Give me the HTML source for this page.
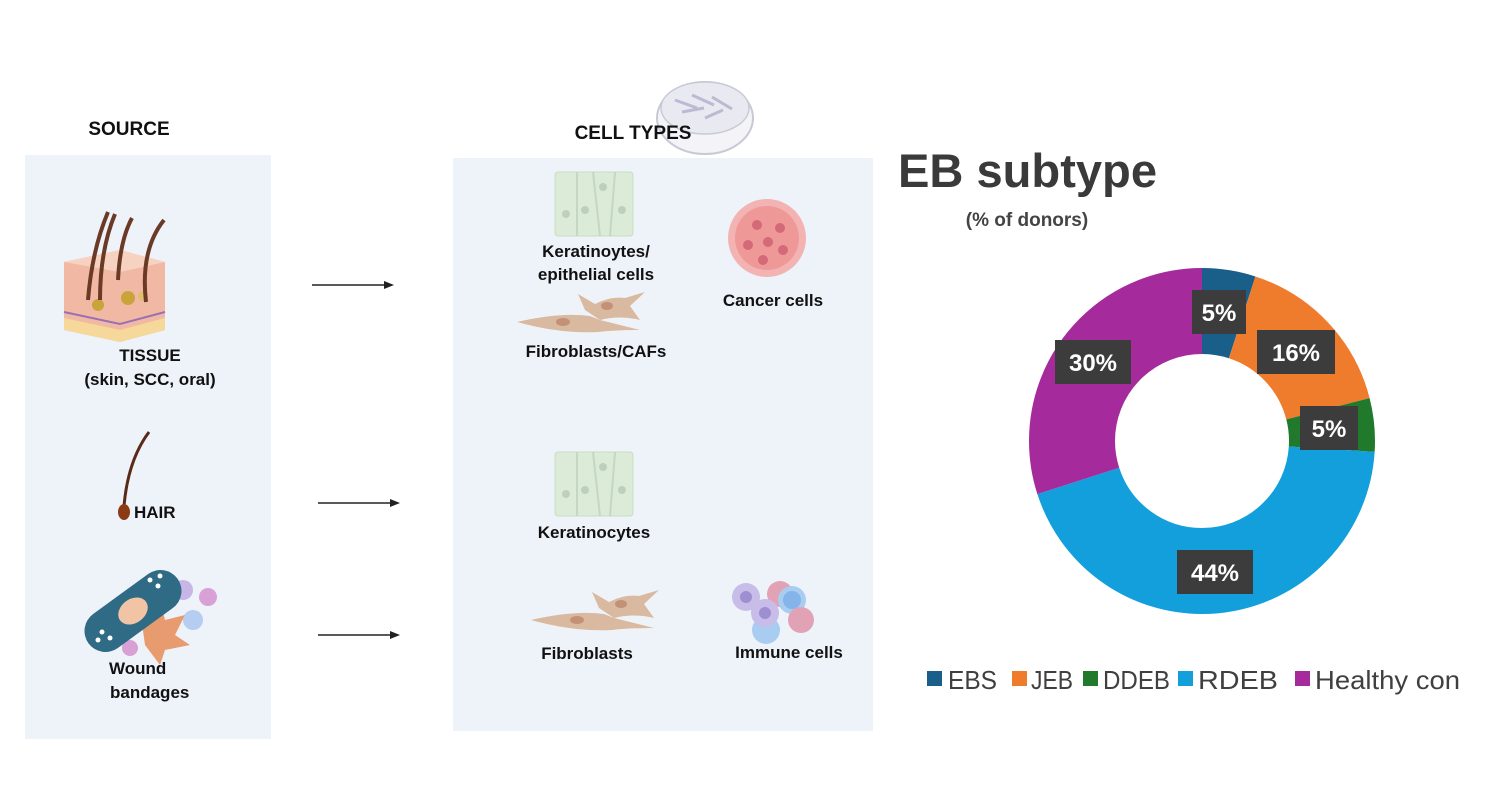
<!DOCTYPE html>
<html><head><meta charset="utf-8">
<style>
html,body{margin:0;padding:0;background:#fff;}
svg{display:block;}
text{font-family:"Liberation Sans",sans-serif;}
</style></head>
<body>
<svg width="1499" height="800" viewBox="0 0 1499 800" xmlns="http://www.w3.org/2000/svg">
<defs>
<marker id="ah" markerWidth="10" markerHeight="10" refX="8" refY="5" orient="auto" markerUnits="userSpaceOnUse">
<path d="M0,1 L10,5 L0,9 Z" fill="#222"/></marker>
</defs>
<rect width="1499" height="800" fill="#fff"/>
<rect x="25" y="155" width="246" height="584" fill="#eef3fa"/>
<rect x="453" y="158" width="420" height="573" fill="#eef3fa"/>

<text x="129" y="135" font-size="19" font-weight="bold" text-anchor="middle" fill="#111">SOURCE</text>
<ellipse cx="705" cy="118" rx="48" ry="36" fill="#f4f4f8" stroke="#c9c9d6" stroke-width="2"/>
<ellipse cx="705" cy="108" rx="44" ry="26" fill="#e9e9f2" stroke="#c9c9d6" stroke-width="1.5"/>
<path d="M675,100 l22,8 M692,95 l22,10 M712,97 l20,12 M682,112 l22,-4 M705,118 l18,-8" stroke="#b9bbd2" stroke-width="3"/>
<text x="633" y="139" font-size="19" font-weight="bold" text-anchor="middle" fill="#111">CELL TYPES</text>

<g>
<path d="M64,262 L120,250 L165,262 L165,330 L120,342 L64,330 Z" fill="#f1b9a4"/>
<path d="M64,262 L120,250 L165,262 L120,272 Z" fill="#f7d2c1"/>
<path d="M64,318 L120,330 L165,318 L165,330 L120,342 L64,330 Z" fill="#f5d89a"/>
<path d="M64,312 L120,324 L165,312" stroke="#9a6fb3" stroke-width="2" fill="none"/>
<circle cx="98" cy="305" r="6" fill="#c9a43a"/><circle cx="128" cy="298" r="7" fill="#c9a43a"/><circle cx="143" cy="296" r="5" fill="#e0c070"/>
<path d="M88,300 Q92,250 108,212 M100,300 Q100,250 115,214 M118,280 Q120,240 132,218 M146,302 Q140,250 164,220" stroke="#6b3a26" stroke-width="4" fill="none"/>
</g>
<text x="150" y="361" font-size="17" font-weight="bold" text-anchor="middle" fill="#111">TISSUE</text>
<text x="150" y="385" font-size="17" font-weight="bold" text-anchor="middle" fill="#111">(skin, SCC, oral)</text>

<path d="M149,432 Q128,460 124,506" stroke="#5a2a18" stroke-width="3" fill="none"/>
<ellipse cx="124" cy="512" rx="6" ry="8" fill="#8a3a15"/>
<text x="134" y="518" font-size="17" font-weight="bold" fill="#111">HAIR</text>

<g>
<circle cx="183" cy="590" r="10" fill="#c8b7e6"/><circle cx="208" cy="597" r="9" fill="#d9a0d5"/>
<circle cx="193" cy="620" r="10" fill="#b5cdf0"/><circle cx="130" cy="648" r="8" fill="#d9a0d5"/>
<path d="M140,610 l20,-10 l5,20 l20,-5 l-10,20 l15,10 l-25,5 l-5,15 l-15,-20 Z" fill="#e89b6f"/>
<path d="M125,605 l15,-5 l10,15 l-12,10 Z" fill="#e89b6f"/>
<rect x="78" y="590" width="110" height="42" rx="21" fill="#2f6b84" transform="rotate(-36 133 611)"/>
<ellipse cx="133" cy="611" rx="16" ry="12" fill="#f1c4a6" transform="rotate(-36 133 611)"/>
<circle cx="150" cy="580" r="2.5" fill="#fff"/><circle cx="158" cy="586" r="2.5" fill="#fff"/><circle cx="160" cy="576" r="2.5" fill="#fff"/>
<circle cx="102" cy="632" r="2.5" fill="#fff"/><circle cx="110" cy="638" r="2.5" fill="#fff"/><circle cx="98" cy="640" r="2.5" fill="#fff"/>
</g>
<text x="109" y="674" font-size="17" font-weight="bold" fill="#111">Wound</text>
<text x="110" y="698" font-size="17" font-weight="bold" fill="#111">bandages</text>

<line x1="312" y1="285" x2="392" y2="285" stroke="#222" stroke-width="1.6" marker-end="url(#ah)"/>
<line x1="318" y1="503" x2="398" y2="503" stroke="#222" stroke-width="1.6" marker-end="url(#ah)"/>
<line x1="318" y1="635" x2="398" y2="635" stroke="#222" stroke-width="1.6" marker-end="url(#ah)"/>

<g id="kb">
<rect x="555" y="172" width="78" height="64" rx="3" fill="#dcebd8" stroke="#c8dcc3"/>
<line x1="577" y1="172" x2="577" y2="236" stroke="#c3d8be" stroke-width="2"/>
<line x1="593" y1="172" x2="600" y2="236" stroke="#c3d8be" stroke-width="2"/>
<line x1="615" y1="172" x2="610" y2="236" stroke="#c3d8be" stroke-width="2"/>
<circle cx="566" cy="214" r="4" fill="#bfd0ba"/><circle cx="585" cy="210" r="4" fill="#bfd0ba"/><circle cx="603" cy="187" r="4" fill="#bfd0ba"/><circle cx="622" cy="210" r="4" fill="#bfd0ba"/>
</g>
<use href="#kb" transform="translate(0,280)"/>
<text x="596" y="257" font-size="17" font-weight="bold" text-anchor="middle" fill="#111">Keratinoytes/</text>
<text x="596" y="280" font-size="17" font-weight="bold" text-anchor="middle" fill="#111">epithelial cells</text>
<text x="594" y="538" font-size="17" font-weight="bold" text-anchor="middle" fill="#111">Keratinocytes</text>

<g id="fb">
<path d="M517,322 Q560,312 590,316 L600,320 Q620,325 640,330 Q615,330 598,332 Q560,334 517,322 Z" fill="#d9b9a0"/>
<path d="M585,310 L578,294 L595,304 Q610,296 625,298 L645,292 L630,306 L640,320 Q620,315 600,320 Z" fill="#d9b9a0"/>
<ellipse cx="607" cy="306" rx="6" ry="4" fill="#c39276"/><ellipse cx="563" cy="322" rx="7" ry="4" fill="#c39276"/>
</g>
<use href="#fb" transform="translate(14,298)"/>
<text x="596" y="357" font-size="17" font-weight="bold" text-anchor="middle" fill="#111">Fibroblasts/CAFs</text>
<text x="587" y="659" font-size="17" font-weight="bold" text-anchor="middle" fill="#111">Fibroblasts</text>

<circle cx="767" cy="238" r="39" fill="#f3b3b3"/>
<circle cx="767" cy="238" r="32" fill="#ef9898"/>
<circle cx="757" cy="225" r="5" fill="#d46a77"/><circle cx="780" cy="228" r="5" fill="#d46a77"/><circle cx="768" cy="242" r="5" fill="#d46a77"/><circle cx="748" cy="245" r="5" fill="#d46a77"/><circle cx="783" cy="250" r="5" fill="#d46a77"/><circle cx="763" cy="260" r="5" fill="#d46a77"/>
<text x="773" y="306" font-size="17" font-weight="bold" text-anchor="middle" fill="#111">Cancer cells</text>

<circle cx="746" cy="597" r="14" fill="#c7bde8"/><circle cx="746" cy="597" r="6" fill="#9d8fd0"/>
<circle cx="780" cy="594" r="13" fill="#e2a2b6"/>
<circle cx="792" cy="600" r="14" fill="#a8cdf1"/><circle cx="792" cy="600" r="9" fill="#84b4ea"/>
<circle cx="801" cy="620" r="13" fill="#e2a2b6"/>
<circle cx="766" cy="630" r="14" fill="#a8cdf1"/>
<circle cx="765" cy="613" r="14" fill="#c7bde8"/><circle cx="765" cy="613" r="6" fill="#9d8fd0"/>
<text x="789" y="658" font-size="17" font-weight="bold" text-anchor="middle" fill="#111">Immune cells</text>

<text x="898" y="187" font-size="47" font-weight="bold" fill="#3a3a3a" textLength="259" lengthAdjust="spacingAndGlyphs">EB subtype</text>
<text x="1027" y="226" font-size="19" font-weight="bold" text-anchor="middle" fill="#444">(% of donors)</text>

<g transform="rotate(-90 1202 441)">
<circle cx="1202" cy="441" r="130" fill="none" stroke="#1a5f8a" stroke-width="86" stroke-dasharray="40.84 816.81" stroke-dashoffset="0"/>
<circle cx="1202" cy="441" r="130" fill="none" stroke="#ef7b2d" stroke-width="86" stroke-dasharray="130.69 816.81" stroke-dashoffset="-40.84"/>
<circle cx="1202" cy="441" r="130" fill="none" stroke="#217a2c" stroke-width="86" stroke-dasharray="40.84 816.81" stroke-dashoffset="-171.53"/>
<circle cx="1202" cy="441" r="130" fill="none" stroke="#129fdc" stroke-width="86" stroke-dasharray="359.4 816.81" stroke-dashoffset="-212.37"/>
<circle cx="1202" cy="441" r="130" fill="none" stroke="#a52a9c" stroke-width="86" stroke-dasharray="245.04 816.81" stroke-dashoffset="-571.77"/>
</g>
<g font-size="24" font-weight="bold" fill="#fff" text-anchor="middle">
<rect x="1192" y="290" width="54" height="44" fill="#3c3c3c"/><text x="1219" y="321">5%</text>
<rect x="1257" y="330" width="78" height="44" fill="#3c3c3c"/><text x="1296" y="361">16%</text>
<rect x="1300" y="406" width="58" height="44" fill="#3c3c3c"/><text x="1329" y="437">5%</text>
<rect x="1055" y="340" width="76" height="44" fill="#3c3c3c"/><text x="1093" y="371">30%</text>
<rect x="1177" y="550" width="76" height="44" fill="#3c3c3c"/><text x="1215" y="581">44%</text>
</g>

<g font-size="26" fill="#404040">
<rect x="927" y="671" width="15" height="15" fill="#1a5f8a"/><text x="948" y="689" textLength="49" lengthAdjust="spacingAndGlyphs">EBS</text>
<rect x="1012" y="671" width="15" height="15" fill="#ef7b2d"/><text x="1031" y="689" textLength="42" lengthAdjust="spacingAndGlyphs">JEB</text>
<rect x="1083" y="671" width="15" height="15" fill="#217a2c"/><text x="1103" y="689" textLength="67" lengthAdjust="spacingAndGlyphs">DDEB</text>
<rect x="1178" y="671" width="15" height="15" fill="#129fdc"/><text x="1198" y="689" textLength="80" lengthAdjust="spacingAndGlyphs">RDEB</text>
<rect x="1295" y="671" width="15" height="15" fill="#a52a9c"/><text x="1315" y="689" textLength="145" lengthAdjust="spacingAndGlyphs">Healthy con</text>
</g>
</svg>
</body></html>
